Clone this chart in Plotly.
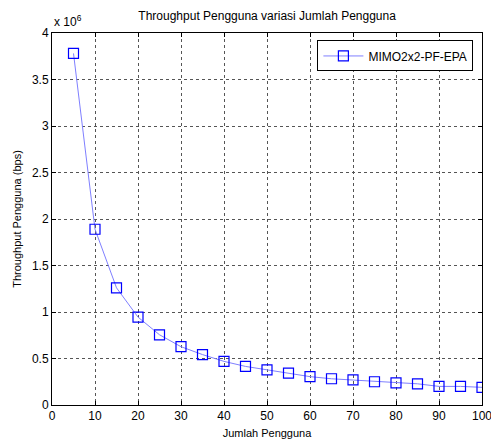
import plotly.graph_objects as go

jumlah_pengguna = [5, 10, 15, 20, 25, 30, 35, 40, 45, 50, 55, 60, 65, 70, 75, 80, 85, 90, 95, 100]
throughput_x1e6 = [3.78, 1.89, 1.26, 0.945, 0.755, 0.627, 0.542, 0.469, 0.415, 0.377,
                   0.342, 0.305, 0.282, 0.270, 0.250, 0.238, 0.228, 0.200, 0.200, 0.190]
x_ticks = [0, 10, 20, 30, 40, 50, 60, 70, 80, 90, 100]
y_ticks = [0, 0.5, 1, 1.5, 2, 2.5, 3, 3.5, 4]
y_ticktext = ["0", "0.5", "1", "1.5", "2", "2.5", "3", "3.5", "4"]

FONT = "Arial"

fig = go.Figure()
fig.add_trace(go.Scatter(
    x=jumlah_pengguna, y=throughput_x1e6,
    mode="lines+markers",
    name="MIMO2x2-PF-EPA",
    line=dict(color="#7f7fff", width=1),
    marker=dict(symbol="square-open", size=10, color="#0000ff", line=dict(width=1.2, color="#0000ff")),
))

axis_common = dict(
    showline=True, linecolor="black", linewidth=1, mirror="ticks",
    ticks="inside", ticklen=4, tickcolor="black",
    showgrid=True, gridcolor="#555555", gridwidth=1, griddash="dot",
    zeroline=False, ticklabeloverflow="allow", automargin=False,
    tickfont=dict(family=FONT, size=12, color="black"),
)

fig.update_xaxes(range=[0, 100], tickvals=x_ticks, **axis_common,
                 title=dict(text="Jumlah Pengguna", font=dict(family=FONT, size=11, color="black"), standoff=6))
fig.update_yaxes(range=[0, 4], tickvals=y_ticks, ticktext=y_ticktext, **axis_common,
                 title=dict(text="Throughput Pengguna (bps)", font=dict(family=FONT, size=11, color="black"), standoff=8))

fig.update_layout(
    width=491, height=447,
    margin=dict(l=52, r=9, t=33, b=42),
    paper_bgcolor="white", plot_bgcolor="white",
    title=dict(text="Throughput Pengguna variasi Jumlah Pengguna", x=0.544, xanchor="center",
               y=0.965, yanchor="middle", font=dict(family=FONT, size=12, color="black")),
    showlegend=True,
    legend=dict(x=0.98, y=0.98, xanchor="right", yanchor="top",
                bordercolor="black", borderwidth=1, bgcolor="white", itemwidth=40,
                font=dict(family=FONT, size=12, color="black")),
    annotations=[dict(text="x 10<sup>6</sup>", xref="paper", yref="paper", x=0.0, y=1.0,
                      xanchor="left", yanchor="bottom", showarrow=False, yshift=2,
                      font=dict(family=FONT, size=12, color="black"))],
)

fig.write_html("out.html")
